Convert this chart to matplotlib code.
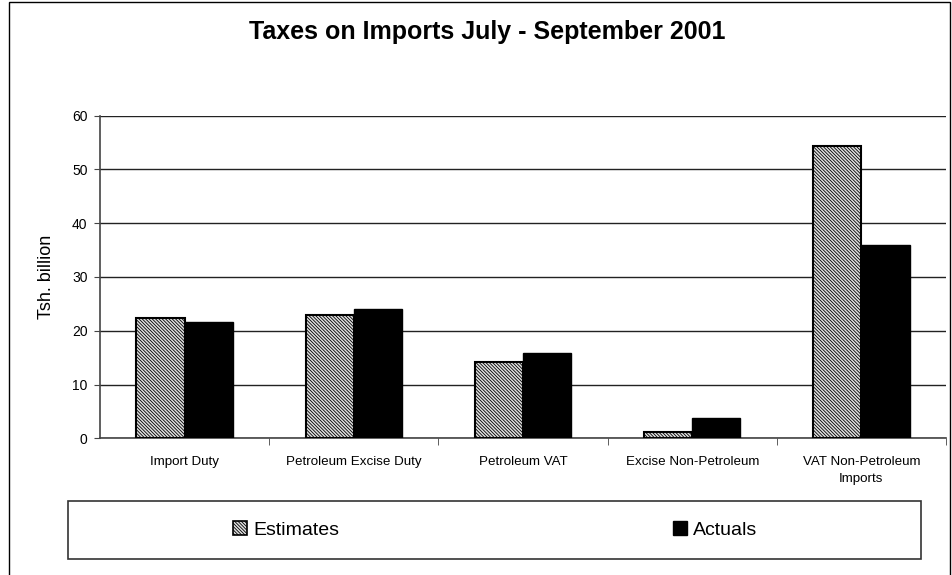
import matplotlib
matplotlib.use("Agg")
import matplotlib.pyplot as plt
from matplotlib.patches import Rectangle, Patch
import numpy as np

categories = ["Import Duty", "Petroleum Excise Duty", "Petroleum VAT",
              "Excise Non-Petroleum", "VAT Non-Petroleum\nImports"]
estimates = [22.4, 23.0, 14.2, 1.2, 54.3]
actuals = [21.7, 24.1, 15.8, 3.8, 36.0]
yticks = [0, 10, 20, 30, 40, 50, 60]

plt.rcParams['font.family'] = ['Liberation Sans', 'DejaVu Sans']
plt.rcParams['hatch.linewidth'] = 0.6

fine_hatch = '\\' * 10

fig = plt.figure(figsize=(9.52, 5.75), dpi=100)
ax = fig.add_axes([100/952, 1-438.3/575, 846/952, (438.3-115.7)/575])

x = np.arange(len(categories))
w = 0.285
ax.bar(x - w/2, estimates, w, facecolor='#e0e0e0', edgecolor='black',
       hatch=fine_hatch, linewidth=1.5, zorder=3)
ax.bar(x + w/2, actuals, w, facecolor='black', edgecolor='black',
       linewidth=1.0, zorder=3)

ax.set_xlim(-0.5, len(categories) - 0.5)
ax.set_ylim(0, 60)
ax.set_yticks(yticks)
ax.tick_params(axis='y', labelsize=10, length=4, pad=5, color='#444444')
ax.yaxis.grid(True, color='#222222', linewidth=1.0)
ax.set_axisbelow(True)

# category labels centred, ticks on the group boundaries
ax.set_xticks(x)
ax.set_xticklabels(categories, fontsize=9.6, linespacing=1.5)
ax.tick_params(axis='x', length=0, pad=13)
ax.set_xticks(np.arange(0.5, len(categories) - 0.5 + 0.01, 1.0), minor=True)
ax.tick_params(axis='x', which='minor', length=5, color='#444444')

for s in ['top', 'right']:
    ax.spines[s].set_visible(False)
ax.spines['left'].set_color('#444444')
ax.spines['bottom'].set_color('#444444')
ax.spines['left'].set_linewidth(1.2)
ax.spines['bottom'].set_linewidth(1.2)

ax.set_ylabel("Tsh. billion", fontsize=13, labelpad=12)

fig.text(487/952, 1 - 32/575, "Taxes on Imports July - September 2001",
         ha='center', va='center', fontsize=18, fontweight='bold')

# outer chart frame
fig.patches.append(Rectangle((9/952, -0.01), (950-9)/952, 1 - 1.5/575 + 0.01,
                             transform=fig.transFigure, fill=False,
                             edgecolor='black', linewidth=1.0))

# legend box
fig.patches.append(Rectangle((68/952, 1 - 559/575), (921-68)/952, 58/575,
                             transform=fig.transFigure, fill=False,
                             edgecolor='#333333', linewidth=1.2))
h_est = Patch(facecolor='#e0e0e0', edgecolor='black', hatch=fine_hatch, linewidth=1.2)
h_act = Patch(facecolor='black', edgecolor='black')
for h, lab, cx in [(h_est, "Estimates", 286), (h_act, "Actuals", 715)]:
    fig.legend([h], [lab], loc='center', bbox_to_anchor=(cx/952, 1 - 530/575),
               frameon=False, fontsize=14, handlelength=0.72,
               handleheight=0.72, handletextpad=0.3)

fig.savefig("out.png", dpi=100)
